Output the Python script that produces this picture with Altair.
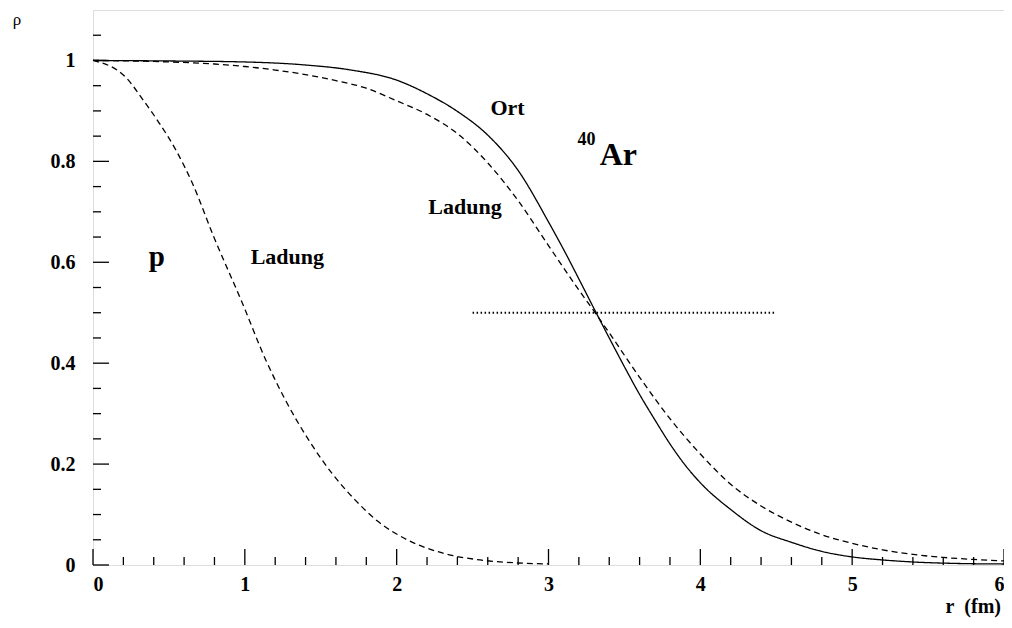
import altair as alt
import pandas as pd

# --- data ---
r_ar_ort = [0, 0.5, 1.0, 1.4, 1.7, 2.0, 2.2, 2.4, 2.6, 2.8, 3.0, 3.1, 3.2, 3.3, 3.4, 3.5,
            3.6, 3.7, 3.8, 3.9, 4.0, 4.2, 4.4, 4.6, 4.8, 5.0, 5.2, 5.4, 5.7, 6.0]
rho_ar_ort = [1.0, 0.999, 0.997, 0.991, 0.981, 0.961, 0.934, 0.899, 0.852, 0.782, 0.680,
              0.625, 0.567, 0.508, 0.450, 0.393, 0.338, 0.288, 0.240, 0.198, 0.163, 0.110,
              0.068, 0.045, 0.027, 0.016, 0.010, 0.006, 0.003, 0.002]

r_ar_ladung = [0, 0.4, 0.8, 1.0, 1.2, 1.4, 1.6, 1.8, 2.0, 2.2, 2.4, 2.6, 2.8, 3.0, 3.2, 3.3,
               3.4, 3.6, 3.8, 4.0, 4.2, 4.4, 4.6, 4.8, 5.0, 5.2, 5.4, 5.6, 5.8, 6.0]
rho_ar_ladung = [1.0, 0.998, 0.993, 0.988, 0.981, 0.972, 0.960, 0.945, 0.920, 0.893, 0.855,
                 0.797, 0.722, 0.633, 0.545, 0.503, 0.460, 0.372, 0.290, 0.220, 0.160, 0.117,
                 0.085, 0.060, 0.043, 0.030, 0.021, 0.015, 0.011, 0.008]

r_p_ladung = [0, 0.218, 0.327, 0.436, 0.545, 0.654, 0.796, 0.984, 1.137, 1.267, 1.42, 1.573,
              1.726, 1.878, 2.05, 2.31, 2.55, 2.8, 3.0]
rho_p_ladung = [1.0, 0.966, 0.923, 0.876, 0.823, 0.757, 0.650, 0.519, 0.407, 0.327, 0.248,
                0.182, 0.129, 0.086, 0.053, 0.023, 0.010, 0.004, 0.002]

half_line_r = [2.5, 4.5]
half_line_rho = [0.5, 0.5]

x_major = [0, 1, 2, 3, 4, 5, 6]
x_minor = [0.2, 0.4, 0.6, 0.8, 1.2, 1.4, 1.6, 1.8, 2.2, 2.4, 2.6, 2.8, 3.2, 3.4, 3.6, 3.8,
           4.2, 4.4, 4.6, 4.8, 5.2, 5.4, 5.6, 5.8]
y_major = [0, 0.2, 0.4, 0.6, 0.8, 1.0]
y_minor = [0.05, 0.1, 0.15, 0.25, 0.3, 0.35, 0.45, 0.5, 0.55, 0.65, 0.7, 0.75, 0.85, 0.9,
           0.95, 1.05]

# annotations (text, r, rho, font size)
ann_text = ["Ort", "Ladung", "p", "Ladung"]
ann_r = [2.73, 2.45, 0.42, 1.28]
ann_rho = [0.905, 0.710, 0.611, 0.611]
ann_size = [22, 22, 29, 22]

FONT = "Liberation Serif"
W, H = 911, 555

rows = []
for r, v in zip(r_ar_ort, rho_ar_ort):
    rows.append({"r": r, "rho": v, "s": "Ar Ort"})
for r, v in zip(r_ar_ladung, rho_ar_ladung):
    rows.append({"r": r, "rho": v, "s": "Ar Ladung"})
for r, v in zip(r_p_ladung, rho_p_ladung):
    rows.append({"r": r, "rho": v, "s": "p Ladung"})
curves = pd.DataFrame(rows)

xs = alt.Scale(domain=[0, 6], nice=False, zero=False)
ys = alt.Scale(domain=[0, 1.1], nice=False, zero=False)

base_x_axis = alt.Axis(values=x_major, format="d", ticks=False, domain=False, grid=False,
                       labelFont=FONT, labelFontWeight="bold", labelFontSize=20,
                       labelColor="black", labelPadding=9, title=None)
y_expr = "datum.value == 1 ? '1' : datum.value == 0 ? '0' : format(datum.value, '.1f')"
base_y_axis = alt.Axis(values=y_major, labelExpr=y_expr, ticks=False, domain=False, grid=False,
                       labelFont=FONT, labelFontWeight="bold", labelFontSize=20,
                       labelColor="black", labelPadding=18, title=None)

lines = alt.Chart(curves).mark_line(color="black", strokeWidth=1.3, interpolate="monotone").encode(
    x=alt.X("r:Q", scale=xs, axis=base_x_axis),
    y=alt.Y("rho:Q", scale=ys, axis=base_y_axis),
    detail="s:N",
    strokeDash=alt.StrokeDash("s:N", scale=alt.Scale(domain=["Ar Ort", "Ar Ladung", "p Ladung"],
                                                     range=[[1, 0], [6, 4], [6, 4]]),
                              legend=None),
)

half = alt.Chart(pd.DataFrame({"r": half_line_r, "rho": half_line_rho})).mark_line(
    color="black", strokeWidth=1.8, strokeDash=[1.5, 2.5]).encode(
    x=alt.X("r:Q", scale=xs), y=alt.Y("rho:Q", scale=ys))

xmaj = alt.Chart(pd.DataFrame({"v": x_major})).mark_rule(color="black", strokeWidth=1.3).encode(
    x=alt.X("v:Q", scale=xs), y=alt.value(H), y2=alt.value(H - 16))
xmin = alt.Chart(pd.DataFrame({"v": x_minor})).mark_rule(color="black", strokeWidth=1.3).encode(
    x=alt.X("v:Q", scale=xs), y=alt.value(H), y2=alt.value(H - 8))
ymaj = alt.Chart(pd.DataFrame({"v": y_major})).mark_rule(color="black", strokeWidth=1.3).encode(
    y=alt.Y("v:Q", scale=ys), x=alt.value(0), x2=alt.value(16))
ymin = alt.Chart(pd.DataFrame({"v": y_minor})).mark_rule(color="black", strokeWidth=1.3).encode(
    y=alt.Y("v:Q", scale=ys), x=alt.value(0), x2=alt.value(8))

ann_df = pd.DataFrame({"t": ann_text, "r": ann_r, "rho": ann_rho, "fs": ann_size})
ann = alt.Chart(ann_df).mark_text(font=FONT, fontWeight="bold", color="black").encode(
    x=alt.X("r:Q", scale=xs), y=alt.Y("rho:Q", scale=ys), text="t:N",
    size=alt.Size("fs:Q", scale=None, legend=None))

ar40 = alt.Chart(pd.DataFrame({"r": [3.25], "rho": [0.842], "t": ["40"]})).mark_text(
    font=FONT, fontWeight="bold", fontSize=18, color="black").encode(
    x=alt.X("r:Q", scale=xs), y=alt.Y("rho:Q", scale=ys), text="t:N")
ar = alt.Chart(pd.DataFrame({"r": [3.46], "rho": [0.812], "t": ["Ar"]})).mark_text(
    font=FONT, fontWeight="bold", fontSize=32, color="black").encode(
    x=alt.X("r:Q", scale=xs), y=alt.Y("rho:Q", scale=ys), text="t:N")

rho_title = alt.Chart(pd.DataFrame({"t": ["ρ"]})).mark_text(
    font=FONT, fontSize=17, color="black", baseline="middle").encode(
    x=alt.value(-76), y=alt.value(10), text="t:N")
x_title = alt.Chart(pd.DataFrame({"t": ["r\u00a0\u00a0(fm)"]})).mark_text(
    font=FONT, fontWeight="bold", fontSize=20, color="black", align="right",
    baseline="alphabetic").encode(
    x=alt.value(W - 3), y=alt.value(H + 48), text="t:N")

chart = alt.layer(half, lines, xmaj, xmin, ymaj, ymin, ann, ar40, ar, rho_title, x_title).properties(
    width=W, height=H,
    autosize=alt.AutoSizeParams(type="none"),
    padding={"left": 85, "top": 2, "right": 0, "bottom": 55},
).configure_view(stroke="black", strokeWidth=1.5).configure(background="white")

chart.save("out.html", embed_options={"renderer": "svg", "actions": False})
